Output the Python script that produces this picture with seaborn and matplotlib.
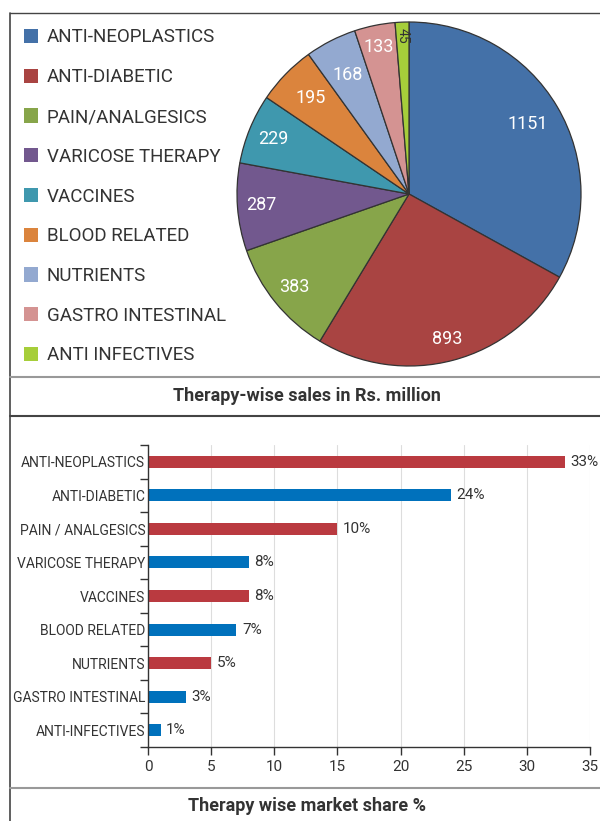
import matplotlib
matplotlib.use("Agg")
import matplotlib.pyplot as plt
import seaborn as sns
import numpy as np
import pandas as pd
from matplotlib.lines import Line2D
from matplotlib.patches import Patch

sns.set_theme(style="white")
plt.rcParams['font.family'] = ['Roboto', 'DejaVu Sans']

# ---- data ----
pie_categories = ["ANTI-NEOPLASTICS", "ANTI-DIABETIC", "PAIN/ANALGESICS", "VARICOSE THERAPY",
                  "VACCINES", "BLOOD RELATED", "NUTRIENTS", "GASTRO INTESTINAL", "ANTI INFECTIVES"]
pie_values = [1151, 893, 383, 287, 229, 195, 168, 133, 45]
pie_colors = ["#4471A8", "#A94442", "#87A54A", "#72588E", "#3F98AE",
              "#DB843D", "#93A9D0", "#D49392", "#A6CE3A"]

bar_categories = ["ANTI-NEOPLASTICS", "ANTI-DIABETIC", "PAIN / ANALGESICS", "VARICOSE THERAPY",
                  "VACCINES", "BLOOD RELATED", "NUTRIENTS", "GASTRO INTESTINAL", "ANTI-INFECTIVES"]
bar_values = [33, 24, 15, 8, 8, 7, 5, 3, 1]
bar_labels = ["33%", "24%", "10%", "8%", "8%", "7%", "5%", "3%", "1%"]
bar_colors = ["#BA3A40", "#0071BC", "#BA3A40", "#0071BC", "#BA3A40",
              "#0071BC", "#BA3A40", "#0071BC", "#0071BC"]
x_ticks = [0, 5, 10, 15, 20, 25, 30, 35]

pie_title = "Therapy-wise sales in Rs. million"
bar_title = "Therapy wise market share %"

W, H = 600, 821
fig = plt.figure(figsize=(W / 100, H / 100), dpi=100)
fig.patch.set_facecolor("white")

def fx(px):
    return px / W

def fy(py):
    return 1 - py / H

# ---- pie ----
cx, cy, r = 409, 194, 172
pax = fig.add_axes([fx(cx - r), fy(cy + r), (2 * r) / W, (2 * r) / H])
wedges, _ = pax.pie(pie_values, colors=pie_colors, startangle=90, counterclock=False,
                    wedgeprops=dict(edgecolor="#333333", linewidth=0.9))
pax.set_xlim(-1, 1)
pax.set_ylim(-1, 1)
pax.set_aspect("equal")
pax.axis("off")

label_dist = [0.80, 0.87, 0.86, 0.86, 0.85, 0.80, 0.78, 0.87, 0.92]
for w, v, d in zip(wedges, pie_values, label_dist):
    ang = np.deg2rad((w.theta1 + w.theta2) / 2)
    x, y = d * np.cos(ang), d * np.sin(ang)
    if v == 45:
        pax.text(x, y, str(v), ha="center", va="center", fontsize=10,
                 color="#333333", rotation=-90)
    else:
        pax.text(x, y, str(v), ha="center", va="center", fontsize=13, color="white")

handles = [Patch(facecolor=c, edgecolor="none") for c in pie_colors]
fig.legend(handles, pie_categories, loc="upper left",
           bbox_to_anchor=(fx(16), fy(21)), frameon=False, fontsize=13.5,
           handlelength=0.78, handleheight=0.78, handletextpad=0.45,
           labelspacing=1.16, borderaxespad=0, labelcolor="#333333")

# ---- bars ----
bx0, bx1 = 148, 590
by0, by1 = 445, 747
bax = fig.add_axes([fx(bx0), fy(by1), (bx1 - bx0) / W, (by1 - by0) / H])
df = pd.DataFrame({"cat": bar_categories, "val": bar_values})
sns.barplot(data=df, y="cat", x="val", hue="cat", palette=bar_colors,
            width=0.36, legend=False, ax=bax, saturation=1, linewidth=0)
bax.set_xlim(0, 35)
bax.set_ylim(8.5, -0.5)
bax.set_xticks(x_ticks)
bax.set_xticklabels([str(t) for t in x_ticks])
bax.set_xlabel("")
bax.set_ylabel("")
bax.grid(axis="x", color="#DDDDDD", linewidth=0.8)
bax.set_axisbelow(True)
for s in ["top", "right"]:
    bax.spines[s].set_visible(False)
for s in ["left", "bottom"]:
    bax.spines[s].set_color("#333333")
    bax.spines[s].set_linewidth(1.0)
bax.tick_params(axis="x", length=6, width=1, color="#333333", direction="out",
                labelsize=11, labelcolor="#333333", pad=3, bottom=True)
bax.tick_params(axis="y", which="major", length=0, labelsize=10, labelcolor="#333333", pad=2, left=True)
bax.set_yticks(np.arange(-0.5, 9, 1), minor=True)
bax.tick_params(axis="y", which="minor", length=6, width=1, color="#333333", left=True)

for i, (v, lab) in enumerate(zip(bar_values, bar_labels)):
    bax.annotate(lab, (v, i), xytext=(4, 0), textcoords="offset points",
                 ha="left", va="center", fontsize=11, color="#333333", annotation_clip=False)

# ---- frame and titles ----
dark = "#444444"
grey = "#999999"
fig.add_artist(Line2D([fx(10), fx(600)], [fy(13.5), fy(13.5)], color=dark, lw=1.0))
fig.add_artist(Line2D([fx(10), fx(10)], [fy(13.5), fy(821)], color=dark, lw=1.2))
fig.add_artist(Line2D([fx(10), fx(600)], [fy(377.5), fy(377.5)], color=grey, lw=1.5))
fig.add_artist(Line2D([fx(10), fx(600)], [fy(416), fy(416)], color=dark, lw=1.5))
fig.add_artist(Line2D([fx(10), fx(600)], [fy(788), fy(788)], color=grey, lw=1.5))

fig.text(fx(307), fy(396), pie_title, ha="center", va="center", fontsize=13,
         fontweight="bold", color="#333333")
fig.text(fx(307), fy(806), bar_title, ha="center", va="center", fontsize=13,
         fontweight="bold", color="#333333")

fig.savefig("out.png", dpi=100)
